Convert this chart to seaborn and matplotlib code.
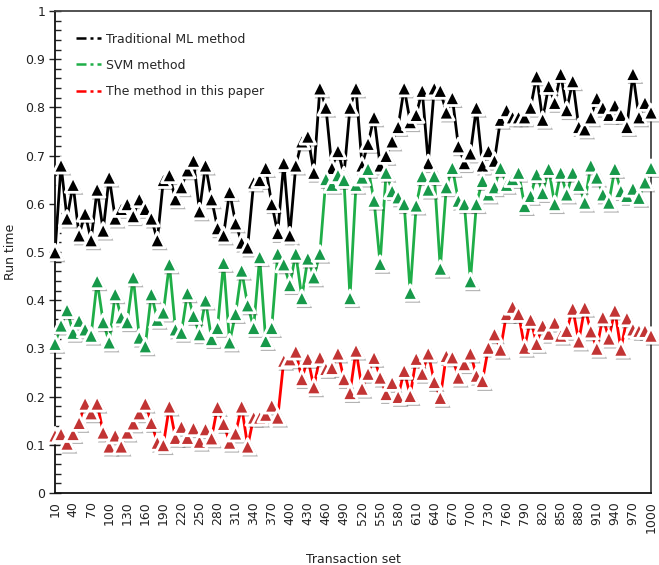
import numpy as np
import pandas as pd
import matplotlib
matplotlib.use("Agg")
import matplotlib.pyplot as plt
import matplotlib.patheffects as pe
from matplotlib.lines import Line2D
from matplotlib.ticker import MultipleLocator, FixedLocator
import seaborn as sns

# Transaction sets 10, 20, ..., 1000
transaction_sets = list(range(10, 1001, 10))

traditional_ml = [
    0.50, 0.68, 0.57, 0.64, 0.535, 0.58, 0.525, 0.63, 0.545, 0.655,
    0.57, 0.59, 0.60, 0.575, 0.61, 0.59, 0.57, 0.525, 0.65, 0.66,
    0.61, 0.635, 0.67, 0.69, 0.585, 0.68, 0.61, 0.55, 0.535, 0.625,
    0.56, 0.52, 0.51, 0.645, 0.65, 0.675, 0.60, 0.54, 0.685, 0.535,
    0.68, 0.73, 0.74, 0.665, 0.84, 0.80, 0.675, 0.71, 0.66, 0.80,
    0.84, 0.68, 0.725, 0.78, 0.68, 0.70, 0.73, 0.76, 0.84, 0.77,
    0.785, 0.835, 0.685, 0.84, 0.835, 0.79, 0.82, 0.72, 0.685, 0.705,
    0.80, 0.68, 0.71, 0.69, 0.775, 0.795, 0.78, 0.78, 0.78, 0.80,
    0.865, 0.775, 0.845, 0.81, 0.87, 0.795, 0.855, 0.76, 0.755, 0.78,
    0.82, 0.80, 0.785, 0.805, 0.785, 0.76, 0.87, 0.78, 0.81, 0.79,
]

svm = [
    0.31, 0.348, 0.38, 0.333, 0.358, 0.34, 0.327, 0.44, 0.355, 0.313,
    0.413, 0.365, 0.355, 0.448, 0.323, 0.305, 0.413, 0.36, 0.375, 0.475,
    0.34, 0.333, 0.415, 0.368, 0.33, 0.40, 0.32, 0.343, 0.478, 0.313,
    0.372, 0.462, 0.39, 0.343, 0.49, 0.316, 0.343, 0.497, 0.475, 0.432,
    0.497, 0.405, 0.487, 0.448, 0.497, 0.652, 0.64, 0.66, 0.65, 0.405,
    0.64, 0.655, 0.673, 0.607, 0.476, 0.665, 0.627, 0.614, 0.60, 0.416,
    0.597, 0.658, 0.63, 0.658, 0.466, 0.635, 0.675, 0.607, 0.60, 0.44,
    0.60, 0.648, 0.62, 0.635, 0.675, 0.64, 0.652, 0.665, 0.596, 0.617,
    0.662, 0.623, 0.673, 0.60, 0.665, 0.62, 0.665, 0.64, 0.603, 0.68,
    0.655, 0.62, 0.603, 0.673, 0.627, 0.617, 0.632, 0.613, 0.645, 0.675,
]

this_paper = [
    0.12, 0.123, 0.103, 0.123, 0.146, 0.186, 0.166, 0.186, 0.126, 0.097,
    0.12, 0.097, 0.126, 0.145, 0.166, 0.186, 0.146, 0.105, 0.10, 0.18,
    0.115, 0.138, 0.115, 0.135, 0.107, 0.133, 0.114, 0.179, 0.144, 0.105,
    0.124, 0.18, 0.097, 0.157, 0.157, 0.163, 0.182, 0.157, 0.275, 0.278,
    0.294, 0.237, 0.279, 0.22, 0.282, 0.258, 0.26, 0.29, 0.237, 0.208,
    0.296, 0.217, 0.248, 0.281, 0.24, 0.206, 0.229, 0.20, 0.254, 0.202,
    0.279, 0.248, 0.29, 0.231, 0.198, 0.285, 0.282, 0.24, 0.268, 0.29,
    0.244, 0.233, 0.302, 0.33, 0.298, 0.372, 0.387, 0.372, 0.302, 0.36,
    0.31, 0.348, 0.331, 0.354, 0.327, 0.337, 0.383, 0.315, 0.385, 0.336,
    0.30, 0.365, 0.321, 0.379, 0.298, 0.363, 0.34, 0.337, 0.337, 0.327,
]

series_names = ["Traditional ML method", "SVM method", "The method in this paper"]
line_colors = ["#000000", "#1fae48", "#ff0000"]
marker_colors = ["#000000", "#17994a", "#c23434"]

sns.set_style("ticks")
plt.rcParams["font.family"] = ["DejaVu Sans"]

fig = plt.figure(figsize=(6.59, 5.65), dpi=100)
ax = fig.add_axes([55 / 659, 1 - 493 / 565, 596 / 659, 482 / 565])

shadow = pe.SimplePatchShadow(offset=(1.8, -1.8), shadow_rgbFace="#000000", alpha=0.3)
line_fx = [pe.Stroke(linewidth=5.0, foreground="white"), pe.Normal()]
marker_fx = [shadow, pe.Normal()]

for name, values, lc, mc in zip(series_names, [traditional_ml, svm, this_paper],
                                line_colors, marker_colors):
    df = pd.DataFrame({"Transaction set": transaction_sets, "Run time": values})
    sns.lineplot(data=df, x="Transaction set", y="Run time", ax=ax, color=lc,
                 linewidth=2.0, sort=False, legend=False, path_effects=line_fx)
    sns.scatterplot(data=df, x="Transaction set", y="Run time", ax=ax, color=mc,
                    marker="^", s=125, edgecolor="white", linewidth=2.0,
                    legend=False, clip_on=False, zorder=3, path_effects=marker_fx)

ax.set_xlim(10, 1000)
ax.set_ylim(0, 1)

# x axis: a label every 30, a tick mark every 60
ax.xaxis.set_major_locator(FixedLocator(list(range(10, 1001, 30))))
ax.set_xticklabels([str(v) for v in range(10, 1001, 30)], rotation=90)
ax.xaxis.set_minor_locator(FixedLocator(list(range(70, 1000, 60))))
ax.tick_params(axis="x", which="major", length=0, pad=6, labelsize=9, colors="#222222")
ax.tick_params(axis="x", which="minor", direction="in", length=5, width=1, color="#222222")

ax.yaxis.set_major_locator(MultipleLocator(0.1))
ax.yaxis.set_minor_locator(MultipleLocator(0.02))
ax.set_yticks(np.round(np.arange(0, 1.01, 0.1), 1))
ax.set_yticklabels(["0"] + [f"{v:.1f}" for v in np.arange(0.1, 0.95, 0.1)] + ["1"])
ax.tick_params(axis="y", which="major", direction="inout", length=8, width=1,
               labelsize=9, colors="#222222", pad=3)
ax.tick_params(axis="y", which="minor", direction="in", length=4, width=1, color="#222222")

for side in ["left", "bottom"]:
    ax.spines[side].set_color("#111111")
    ax.spines[side].set_linewidth(1.3)
for side in ["top", "right"]:
    ax.spines[side].set_color("#444444")
    ax.spines[side].set_linewidth(1.3)

ax.set_xlabel("Transaction set", fontsize=9, labelpad=14, color="#222222")
ax.set_ylabel("Run time", fontsize=9, labelpad=6, color="#222222")

handles = [Line2D([0], [0], color=c, linewidth=1.8, linestyle=(0, (4, 1.6, 1.2, 1.6)))
           for c in line_colors]
ax.legend(handles, series_names, loc="upper left", bbox_to_anchor=(0.035, 0.955),
          frameon=False, fontsize=9, handlelength=2.0, handletextpad=0.4,
          labelspacing=1.05, borderpad=0, borderaxespad=0)

fig.savefig("out.png", dpi=100)
